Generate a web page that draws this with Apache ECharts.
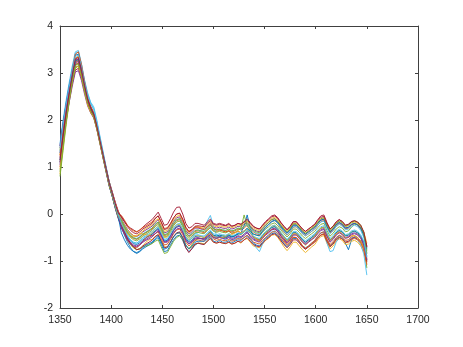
<!DOCTYPE html>
<html>
<head>
<meta charset="utf-8">
<script src="https://cdn.jsdelivr.net/npm/echarts@6/dist/echarts.min.js"></script>
<style>html,body{margin:0;padding:0;background:#fff;}#c{width:463px;height:347px;}</style>
</head>
<body>
<div id="c"></div>
<script>
var wavelengths = [1350,1353,1356,1359,1362,1365,1368,1371,1374,1377,1380,1383,1386,1389,1392,1395,1398,1401,1404,1407,1410,1413,1416,1419,1422,1425,1428,1431,1434,1437,1440,1443,1446,1449,1452,1455,1458,1461,1464,1467,1470,1473,1476,1479,1482,1485,1488,1491,1494,1497,1500,1503,1506,1509,1512,1515,1518,1521,1524,1527,1530,1533,1536,1539,1542,1545,1548,1551,1554,1557,1560,1563,1566,1569,1572,1575,1578,1581,1584,1587,1590,1593,1596,1599,1602,1605,1608,1611,1614,1617,1620,1623,1626,1629,1632,1635,1638,1641,1644,1647,1650];

var s1 = [1.1,1.6,2.05,2.45,2.8,3.12,3.15,2.92,2.6,2.35,2.2,2.08,1.82,1.52,1.2,0.9,0.6,0.38,0.12,-0.1,-0.28,-0.45,-0.6,-0.72,-0.8,-0.84,-0.8,-0.74,-0.7,-0.66,-0.62,-0.55,-0.5,-0.65,-0.8,-0.78,-0.66,-0.55,-0.47,-0.45,-0.56,-0.72,-0.8,-0.74,-0.66,-0.62,-0.63,-0.64,-0.56,-0.48,-0.58,-0.6,-0.56,-0.6,-0.6,-0.57,-0.62,-0.58,-0.55,-0.56,-0.5,-0.46,-0.54,-0.62,-0.66,-0.68,-0.6,-0.52,-0.48,-0.42,-0.4,-0.46,-0.55,-0.64,-0.7,-0.62,-0.52,-0.52,-0.6,-0.68,-0.72,-0.68,-0.62,-0.57,-0.48,-0.4,-0.38,-0.55,-0.68,-0.62,-0.52,-0.46,-0.5,-0.62,-0.76,-0.55,-0.48,-0.5,-0.58,-0.7,-0.98];
var s2 = [1.4,1.88,2.3,2.68,3.0,3.32,3.35,3.08,2.75,2.46,2.28,2.14,1.88,1.58,1.27,0.97,0.68,0.45,0.22,0.0,-0.15,-0.28,-0.4,-0.48,-0.52,-0.54,-0.5,-0.44,-0.4,-0.36,-0.32,-0.24,-0.18,-0.32,-0.46,-0.44,-0.34,-0.22,-0.14,-0.12,-0.24,-0.4,-0.48,-0.44,-0.37,-0.36,-0.38,-0.4,-0.34,-0.28,-0.35,-0.37,-0.35,-0.36,-0.38,-0.35,-0.38,-0.36,-0.32,-0.34,-0.3,-0.24,-0.32,-0.38,-0.42,-0.44,-0.36,-0.28,-0.22,-0.16,-0.14,-0.2,-0.3,-0.38,-0.45,-0.38,-0.28,-0.27,-0.34,-0.42,-0.46,-0.42,-0.37,-0.32,-0.24,-0.16,-0.14,-0.28,-0.4,-0.35,-0.26,-0.2,-0.24,-0.32,-0.3,-0.24,-0.2,-0.24,-0.32,-0.45,-0.7];
var s3 = [0.85,1.4,1.95,2.42,2.82,3.16,3.2,2.96,2.64,2.35,2.16,2.05,1.8,1.5,1.2,0.92,0.62,0.4,0.16,-0.06,-0.25,-0.42,-0.56,-0.66,-0.72,-0.76,-0.74,-0.68,-0.6,-0.55,-0.54,-0.48,-0.44,-0.56,-0.7,-0.7,-0.6,-0.48,-0.42,-0.4,-0.5,-0.66,-0.75,-0.7,-0.64,-0.62,-0.62,-0.64,-0.58,-0.52,-0.6,-0.62,-0.6,-0.62,-0.63,-0.6,-0.64,-0.62,-0.58,-0.62,-0.55,-0.52,-0.6,-0.68,-0.7,-0.72,-0.64,-0.56,-0.52,-0.45,-0.44,-0.5,-0.6,-0.7,-0.78,-0.7,-0.6,-0.6,-0.68,-0.76,-0.82,-0.76,-0.7,-0.65,-0.55,-0.48,-0.46,-0.62,-0.74,-0.68,-0.58,-0.53,-0.56,-0.65,-0.64,-0.58,-0.56,-0.6,-0.68,-0.8,-1.05];
var s4 = [1.3,1.8,2.22,2.6,2.92,3.22,3.25,3.02,2.7,2.42,2.24,2.12,1.87,1.57,1.27,0.98,0.7,0.48,0.25,0.04,-0.1,-0.22,-0.33,-0.41,-0.46,-0.48,-0.44,-0.38,-0.34,-0.3,-0.26,-0.18,-0.12,-0.26,-0.4,-0.38,-0.28,-0.16,-0.08,-0.06,-0.18,-0.35,-0.43,-0.38,-0.3,-0.3,-0.32,-0.33,-0.26,-0.2,-0.28,-0.3,-0.28,-0.3,-0.31,-0.28,-0.32,-0.3,-0.26,-0.28,-0.22,-0.18,-0.26,-0.33,-0.36,-0.38,-0.3,-0.23,-0.18,-0.12,-0.1,-0.16,-0.25,-0.33,-0.4,-0.33,-0.23,-0.23,-0.3,-0.38,-0.43,-0.38,-0.33,-0.28,-0.2,-0.13,-0.11,-0.26,-0.38,-0.32,-0.23,-0.18,-0.22,-0.3,-0.28,-0.22,-0.2,-0.23,-0.3,-0.42,-0.72];
var s5 = [0.8,1.35,1.9,2.38,2.78,3.1,3.15,2.93,2.62,2.35,2.18,2.06,1.82,1.52,1.22,0.92,0.62,0.38,0.14,-0.08,-0.26,-0.4,-0.55,-0.65,-0.72,-0.76,-0.74,-0.7,-0.68,-0.66,-0.63,-0.58,-0.55,-0.7,-0.84,-0.82,-0.7,-0.58,-0.5,-0.46,-0.55,-0.68,-0.74,-0.66,-0.56,-0.52,-0.52,-0.52,-0.44,-0.38,-0.46,-0.47,-0.45,-0.46,-0.47,-0.44,-0.48,-0.46,-0.42,-0.44,-0.38,-0.33,-0.41,-0.48,-0.52,-0.54,-0.46,-0.39,-0.34,-0.28,-0.26,-0.32,-0.41,-0.49,-0.56,-0.49,-0.4,-0.4,-0.47,-0.55,-0.6,-0.55,-0.5,-0.45,-0.37,-0.3,-0.28,-0.42,-0.55,-0.5,-0.4,-0.35,-0.38,-0.46,-0.44,-0.38,-0.36,-0.4,-0.5,-0.66,-1.15];
var s6 = [1.5,2.0,2.42,2.8,3.15,3.45,3.48,3.2,2.85,2.58,2.38,2.28,2.0,1.66,1.34,1.02,0.7,0.46,0.2,-0.02,-0.18,-0.32,-0.46,-0.55,-0.6,-0.62,-0.58,-0.52,-0.48,-0.45,-0.42,-0.35,-0.3,-0.42,-0.56,-0.55,-0.46,-0.35,-0.28,-0.26,-0.36,-0.5,-0.56,-0.5,-0.42,-0.4,-0.35,-0.3,-0.15,-0.03,-0.25,-0.45,-0.5,-0.52,-0.55,-0.5,-0.56,-0.54,-0.5,-0.52,-0.42,-0.36,-0.5,-0.62,-0.72,-0.8,-0.64,-0.5,-0.44,-0.38,-0.36,-0.42,-0.52,-0.62,-0.7,-0.62,-0.5,-0.5,-0.58,-0.68,-0.74,-0.7,-0.64,-0.58,-0.48,-0.4,-0.4,-0.62,-0.8,-0.78,-0.6,-0.5,-0.52,-0.6,-0.58,-0.5,-0.5,-0.55,-0.66,-0.85,-1.3];
var s7 = [1.2,1.68,2.1,2.46,2.78,3.06,3.1,2.9,2.62,2.36,2.2,2.1,1.86,1.56,1.27,0.98,0.69,0.47,0.25,0.06,-0.07,-0.16,-0.25,-0.3,-0.34,-0.38,-0.34,-0.28,-0.22,-0.17,-0.12,-0.04,0.04,-0.1,-0.24,-0.22,-0.1,0.04,0.14,0.15,0.0,-0.2,-0.3,-0.27,-0.2,-0.2,-0.22,-0.24,-0.17,-0.11,-0.2,-0.22,-0.2,-0.22,-0.24,-0.2,-0.26,-0.24,-0.2,-0.22,-0.16,-0.1,-0.18,-0.26,-0.3,-0.32,-0.24,-0.16,-0.1,-0.04,-0.02,-0.08,-0.18,-0.26,-0.33,-0.26,-0.16,-0.16,-0.24,-0.32,-0.37,-0.32,-0.27,-0.22,-0.12,-0.04,-0.02,-0.18,-0.32,-0.26,-0.17,-0.12,-0.16,-0.24,-0.22,-0.16,-0.15,-0.18,-0.26,-0.4,-0.68];
var s8 = [1.45,1.93,2.36,2.74,3.07,3.38,3.4,3.12,2.78,2.48,2.28,2.14,1.88,1.57,1.26,0.95,0.64,0.41,0.16,-0.05,-0.22,-0.36,-0.49,-0.58,-0.63,-0.65,-0.61,-0.55,-0.51,-0.47,-0.43,-0.36,-0.31,-0.44,-0.58,-0.56,-0.46,-0.34,-0.26,-0.24,-0.35,-0.52,-0.6,-0.56,-0.48,-0.47,-0.48,-0.5,-0.43,-0.37,-0.45,-0.47,-0.45,-0.47,-0.48,-0.45,-0.49,-0.47,-0.43,-0.4,-0.25,-0.02,-0.3,-0.5,-0.54,-0.56,-0.47,-0.4,-0.35,-0.29,-0.27,-0.33,-0.42,-0.5,-0.57,-0.5,-0.4,-0.4,-0.47,-0.55,-0.6,-0.55,-0.5,-0.45,-0.37,-0.3,-0.28,-0.43,-0.55,-0.5,-0.4,-0.35,-0.39,-0.47,-0.45,-0.39,-0.37,-0.4,-0.47,-0.6,-0.9];
var s9 = [1.0,1.52,2.0,2.44,2.82,3.2,3.3,3.05,2.72,2.43,2.24,2.12,1.87,1.56,1.25,0.94,0.63,0.4,0.15,-0.07,-0.25,-0.4,-0.55,-0.64,-0.7,-0.72,-0.66,-0.58,-0.5,-0.46,-0.46,-0.42,-0.38,-0.52,-0.66,-0.64,-0.54,-0.42,-0.34,-0.32,-0.44,-0.6,-0.68,-0.63,-0.56,-0.55,-0.57,-0.58,-0.52,-0.46,-0.53,-0.56,-0.54,-0.56,-0.57,-0.54,-0.58,-0.56,-0.52,-0.54,-0.5,-0.45,-0.52,-0.6,-0.62,-0.64,-0.56,-0.5,-0.45,-0.39,-0.37,-0.43,-0.52,-0.6,-0.67,-0.6,-0.5,-0.5,-0.58,-0.68,-0.74,-0.68,-0.62,-0.56,-0.47,-0.4,-0.38,-0.53,-0.65,-0.59,-0.5,-0.45,-0.48,-0.56,-0.55,-0.48,-0.46,-0.5,-0.58,-0.72,-1.0];
var s10 = [1.25,1.76,2.22,2.63,2.98,3.3,3.35,3.08,2.75,2.45,2.26,2.14,1.89,1.59,1.29,0.99,0.7,0.47,0.24,0.03,-0.12,-0.23,-0.34,-0.42,-0.46,-0.47,-0.42,-0.36,-0.31,-0.27,-0.23,-0.15,-0.1,-0.24,-0.37,-0.35,-0.25,-0.13,-0.05,-0.03,-0.15,-0.32,-0.4,-0.35,-0.28,-0.27,-0.29,-0.3,-0.23,-0.17,-0.25,-0.27,-0.25,-0.27,-0.28,-0.25,-0.29,-0.27,-0.23,-0.25,-0.2,-0.15,-0.23,-0.3,-0.33,-0.35,-0.27,-0.2,-0.15,-0.09,-0.07,-0.13,-0.22,-0.3,-0.37,-0.3,-0.2,-0.2,-0.27,-0.35,-0.4,-0.35,-0.3,-0.25,-0.17,-0.1,-0.08,-0.23,-0.35,-0.29,-0.2,-0.15,-0.19,-0.27,-0.25,-0.19,-0.17,-0.2,-0.27,-0.38,-0.62];
var s11 = [1.05,1.55,2.0,2.38,2.72,3.02,3.05,2.84,2.55,2.3,2.15,2.04,1.8,1.5,1.2,0.9,0.6,0.38,0.13,-0.09,-0.27,-0.41,-0.53,-0.61,-0.66,-0.68,-0.64,-0.58,-0.54,-0.5,-0.46,-0.38,-0.33,-0.46,-0.6,-0.58,-0.48,-0.36,-0.28,-0.26,-0.38,-0.55,-0.63,-0.58,-0.51,-0.5,-0.52,-0.53,-0.46,-0.4,-0.48,-0.5,-0.48,-0.5,-0.51,-0.48,-0.52,-0.5,-0.46,-0.48,-0.43,-0.38,-0.46,-0.53,-0.56,-0.58,-0.5,-0.43,-0.38,-0.32,-0.3,-0.36,-0.45,-0.53,-0.6,-0.53,-0.43,-0.43,-0.5,-0.58,-0.63,-0.58,-0.53,-0.48,-0.4,-0.33,-0.31,-0.46,-0.58,-0.52,-0.43,-0.38,-0.42,-0.5,-0.48,-0.42,-0.4,-0.43,-0.5,-0.63,-0.95];
var s12 = [1.35,1.84,2.27,2.65,2.98,3.26,3.28,3.02,2.7,2.41,2.23,2.11,1.86,1.56,1.26,0.96,0.66,0.44,0.2,-0.01,-0.17,-0.3,-0.42,-0.5,-0.55,-0.57,-0.53,-0.47,-0.43,-0.39,-0.35,-0.27,-0.22,-0.35,-0.49,-0.47,-0.37,-0.25,-0.17,-0.15,-0.27,-0.44,-0.52,-0.47,-0.4,-0.39,-0.41,-0.42,-0.35,-0.29,-0.37,-0.39,-0.37,-0.39,-0.4,-0.37,-0.41,-0.39,-0.35,-0.3,-0.02,-0.25,-0.35,-0.42,-0.45,-0.47,-0.39,-0.32,-0.27,-0.21,-0.19,-0.25,-0.34,-0.42,-0.49,-0.42,-0.32,-0.32,-0.39,-0.47,-0.52,-0.47,-0.42,-0.37,-0.29,-0.22,-0.2,-0.35,-0.47,-0.41,-0.32,-0.27,-0.3,-0.38,-0.36,-0.28,-0.22,-0.22,-0.3,-0.45,-0.78];
var s13 = [1.3,1.85,2.32,2.72,3.08,3.42,3.45,3.18,2.83,2.55,2.36,2.24,1.96,1.64,1.32,1.0,0.69,0.45,0.21,0.0,-0.14,-0.26,-0.37,-0.45,-0.5,-0.52,-0.48,-0.42,-0.38,-0.34,-0.3,-0.22,-0.17,-0.3,-0.44,-0.42,-0.32,-0.2,-0.12,-0.1,-0.22,-0.39,-0.47,-0.42,-0.35,-0.34,-0.36,-0.37,-0.3,-0.24,-0.32,-0.34,-0.32,-0.34,-0.35,-0.32,-0.36,-0.34,-0.3,-0.32,-0.27,-0.22,-0.3,-0.37,-0.4,-0.42,-0.34,-0.27,-0.22,-0.16,-0.14,-0.2,-0.29,-0.37,-0.44,-0.37,-0.27,-0.27,-0.34,-0.42,-0.47,-0.42,-0.37,-0.32,-0.24,-0.17,-0.15,-0.3,-0.42,-0.36,-0.27,-0.22,-0.26,-0.34,-0.32,-0.26,-0.24,-0.27,-0.35,-0.5,-0.82];
var s14 = [1.1,1.62,2.08,2.5,2.86,3.18,3.22,2.98,2.66,2.38,2.2,2.08,1.84,1.54,1.23,0.93,0.63,0.4,0.16,-0.05,-0.22,-0.37,-0.52,-0.62,-0.7,-0.76,-0.74,-0.68,-0.64,-0.6,-0.56,-0.48,-0.44,-0.58,-0.72,-0.7,-0.6,-0.48,-0.4,-0.38,-0.52,-0.72,-0.82,-0.74,-0.64,-0.62,-0.64,-0.65,-0.58,-0.52,-0.6,-0.62,-0.6,-0.62,-0.63,-0.6,-0.64,-0.62,-0.58,-0.6,-0.55,-0.5,-0.58,-0.65,-0.68,-0.7,-0.62,-0.55,-0.5,-0.44,-0.42,-0.48,-0.57,-0.65,-0.72,-0.65,-0.55,-0.55,-0.62,-0.7,-0.75,-0.7,-0.65,-0.6,-0.52,-0.45,-0.43,-0.58,-0.7,-0.64,-0.55,-0.5,-0.53,-0.6,-0.58,-0.52,-0.5,-0.53,-0.6,-0.74,-1.02];
var s15 = [1.15,1.66,2.12,2.52,2.88,3.24,3.3,3.06,2.73,2.44,2.25,2.12,1.86,1.55,1.24,0.93,0.62,0.39,0.15,-0.06,-0.4,-0.55,-0.67,-0.75,-0.8,-0.82,-0.79,-0.71,-0.66,-0.63,-0.6,-0.52,-0.46,-0.6,-0.75,-0.72,-0.6,-0.49,-0.41,-0.4,-0.5,-0.66,-0.74,-0.69,-0.6,-0.58,-0.58,-0.58,-0.5,-0.44,-0.5,-0.52,-0.48,-0.5,-0.5,-0.46,-0.49,-0.46,-0.41,-0.42,-0.36,-0.3,-0.37,-0.43,-0.45,-0.46,-0.37,-0.29,-0.23,-0.16,-0.13,-0.18,-0.27,-0.35,-0.41,-0.34,-0.24,-0.24,-0.31,-0.39,-0.43,-0.38,-0.33,-0.28,-0.2,-0.13,-0.11,-0.26,-0.38,-0.32,-0.23,-0.18,-0.22,-0.3,-0.28,-0.22,-0.2,-0.23,-0.3,-0.44,-0.75];
var s16 = [1.25,1.78,2.25,2.66,3.04,3.4,3.45,3.18,2.82,2.5,2.3,2.16,1.9,1.6,1.28,0.98,0.67,0.44,0.2,-0.01,-0.03,-0.13,-0.24,-0.32,-0.36,-0.38,-0.34,-0.29,-0.25,-0.21,-0.17,-0.09,-0.04,-0.17,-0.31,-0.29,-0.2,-0.08,0.0,0.01,-0.12,-0.3,-0.38,-0.34,-0.28,-0.28,-0.31,-0.33,-0.27,-0.22,-0.31,-0.34,-0.33,-0.36,-0.38,-0.36,-0.41,-0.4,-0.37,-0.4,-0.36,-0.32,-0.41,-0.49,-0.53,-0.56,-0.49,-0.43,-0.38,-0.33,-0.32,-0.38,-0.48,-0.57,-0.65,-0.58,-0.49,-0.5,-0.58,-0.67,-0.73,-0.69,-0.64,-0.59,-0.51,-0.44,-0.42,-0.57,-0.69,-0.63,-0.54,-0.49,-0.53,-0.61,-0.6,-0.54,-0.52,-0.55,-0.62,-0.76,-1.08];
var s17 = [0.95,1.48,1.98,2.42,2.8,3.12,3.15,2.92,2.6,2.32,2.16,2.06,1.82,1.52,1.22,0.92,0.62,0.4,0.16,-0.05,-0.2,-0.32,-0.42,-0.47,-0.48,-0.46,-0.42,-0.42,-0.44,-0.45,-0.4,-0.32,-0.26,-0.38,-0.5,-0.49,-0.4,-0.3,-0.23,-0.22,-0.33,-0.48,-0.56,-0.52,-0.46,-0.46,-0.48,-0.5,-0.45,-0.4,-0.48,-0.52,-0.5,-0.5,-0.48,-0.42,-0.44,-0.4,-0.36,-0.4,-0.36,-0.32,-0.4,-0.48,-0.54,-0.58,-0.5,-0.4,-0.33,-0.26,-0.24,-0.3,-0.4,-0.5,-0.58,-0.52,-0.42,-0.42,-0.5,-0.6,-0.66,-0.6,-0.54,-0.48,-0.38,-0.3,-0.28,-0.43,-0.56,-0.5,-0.42,-0.38,-0.42,-0.5,-0.5,-0.46,-0.46,-0.5,-0.58,-0.72,-0.96];
var s18 = [1.45,1.92,2.32,2.68,3.0,3.28,3.3,3.05,2.72,2.43,2.25,2.12,1.87,1.57,1.27,0.97,0.67,0.44,0.2,-0.01,-0.3,-0.43,-0.56,-0.64,-0.68,-0.7,-0.66,-0.6,-0.56,-0.53,-0.49,-0.42,-0.36,-0.47,-0.6,-0.6,-0.51,-0.4,-0.32,-0.3,-0.4,-0.56,-0.64,-0.6,-0.53,-0.52,-0.53,-0.55,-0.48,-0.43,-0.5,-0.52,-0.5,-0.52,-0.53,-0.5,-0.55,-0.52,-0.48,-0.5,-0.46,-0.4,-0.48,-0.55,-0.58,-0.6,-0.52,-0.45,-0.4,-0.34,-0.32,-0.38,-0.47,-0.55,-0.62,-0.55,-0.45,-0.45,-0.52,-0.6,-0.65,-0.6,-0.55,-0.5,-0.42,-0.35,-0.33,-0.48,-0.6,-0.54,-0.45,-0.4,-0.44,-0.52,-0.5,-0.44,-0.42,-0.45,-0.52,-0.66,-0.98];
var s19 = [0.9,1.44,1.96,2.42,2.82,3.16,3.2,2.95,2.63,2.37,2.2,2.08,1.83,1.53,1.23,0.93,0.63,0.41,0.17,-0.04,-0.13,-0.26,-0.38,-0.46,-0.51,-0.53,-0.49,-0.43,-0.39,-0.35,-0.3,-0.22,-0.17,-0.3,-0.44,-0.42,-0.32,-0.2,-0.12,-0.1,-0.22,-0.39,-0.47,-0.42,-0.35,-0.34,-0.36,-0.37,-0.3,-0.24,-0.32,-0.34,-0.32,-0.34,-0.35,-0.32,-0.36,-0.34,-0.3,-0.32,-0.26,-0.2,-0.28,-0.35,-0.38,-0.4,-0.32,-0.24,-0.18,-0.12,-0.1,-0.16,-0.24,-0.32,-0.38,-0.31,-0.21,-0.21,-0.28,-0.36,-0.41,-0.36,-0.31,-0.26,-0.18,-0.1,-0.08,-0.23,-0.35,-0.29,-0.2,-0.15,-0.18,-0.26,-0.24,-0.18,-0.15,-0.17,-0.24,-0.4,-0.85];
var s20 = [1.4,1.9,2.32,2.7,3.04,3.35,3.38,3.12,2.79,2.52,2.34,2.22,1.95,1.62,1.3,0.98,0.67,0.44,0.19,-0.02,-0.2,-0.34,-0.47,-0.56,-0.61,-0.62,-0.57,-0.5,-0.46,-0.42,-0.38,-0.31,-0.27,-0.4,-0.54,-0.52,-0.42,-0.3,-0.22,-0.2,-0.32,-0.49,-0.57,-0.52,-0.45,-0.44,-0.46,-0.47,-0.4,-0.34,-0.42,-0.44,-0.42,-0.44,-0.45,-0.42,-0.46,-0.44,-0.4,-0.42,-0.37,-0.32,-0.4,-0.47,-0.5,-0.52,-0.44,-0.37,-0.32,-0.26,-0.24,-0.3,-0.39,-0.47,-0.54,-0.47,-0.37,-0.37,-0.44,-0.52,-0.57,-0.52,-0.47,-0.42,-0.34,-0.27,-0.25,-0.4,-0.52,-0.46,-0.37,-0.32,-0.36,-0.44,-0.42,-0.36,-0.34,-0.37,-0.44,-0.58,-0.92];
var s21 = [1.15,1.68,2.16,2.58,2.96,3.3,3.33,3.07,2.74,2.45,2.26,2.13,1.87,1.57,1.27,0.97,0.67,0.45,0.22,0.02,-0.05,-0.16,-0.27,-0.35,-0.4,-0.42,-0.38,-0.32,-0.28,-0.24,-0.2,-0.1,-0.04,-0.18,-0.33,-0.31,-0.21,-0.09,0.0,0.02,-0.11,-0.28,-0.37,-0.33,-0.26,-0.25,-0.26,-0.27,-0.2,-0.14,-0.22,-0.24,-0.22,-0.24,-0.25,-0.22,-0.26,-0.24,-0.2,-0.22,-0.17,-0.12,-0.2,-0.27,-0.3,-0.32,-0.24,-0.17,-0.12,-0.06,-0.04,-0.1,-0.19,-0.27,-0.34,-0.27,-0.17,-0.17,-0.24,-0.32,-0.37,-0.32,-0.27,-0.22,-0.14,-0.07,-0.05,-0.2,-0.32,-0.26,-0.17,-0.12,-0.16,-0.24,-0.22,-0.16,-0.14,-0.17,-0.24,-0.38,-0.7];

var spectra = [s1,s2,s3,s4,s5,s6,s7,s8,s9,s10,s11,s12,s13,s14,s15,s16,s17,s18,s19,s20,s21];
var lineColors = ['#0072BD','#D95319','#EDB120','#7E2F8E','#77AC30','#4DBEEE','#A2142F'];
var xTicks = [1350,1400,1450,1500,1550,1600,1650,1700];
var yTicks = [-2,-1,0,1,2,3,4];

var chart = echarts.init(document.getElementById('c'), null, {renderer:'canvas'});
var axisCol = '#404040';
var labelStyle = {color:'#262626', fontSize:10.5, fontFamily:'Liberation Sans, Arial, sans-serif',
  formatter:function(v){ return String(v); }};
var series = spectra.map(function(s, k){
  return {
    type:'line', xAxisIndex:0, yAxisIndex:0, showSymbol:false, symbol:'none',
    smooth:false, animation:false,
    lineStyle:{width:0.9, color: lineColors[k % lineColors.length]},
    data: s.map(function(v,i){ return [wavelengths[i], v]; })
  };
});
chart.setOption({
  animation:false,
  backgroundColor:'#fff',
  grid:{left:60, right:45, top:26, bottom:39, containLabel:false},
  xAxis:[
    {type:'value', position:'bottom', min:xTicks[0], max:xTicks[xTicks.length-1], interval:50,
     axisLine:{show:true, onZero:false, lineStyle:{color:axisCol, width:1}},
     axisTick:{show:true, inside:true, length:3, lineStyle:{color:axisCol}},
     axisLabel:Object.assign({margin:7}, labelStyle), splitLine:{show:false}},
    {type:'value', position:'top', min:xTicks[0], max:xTicks[xTicks.length-1], interval:50,
     axisLine:{show:true, onZero:false, lineStyle:{color:axisCol, width:1}},
     axisTick:{show:true, inside:true, length:3, lineStyle:{color:axisCol}},
     axisLabel:{show:false}, splitLine:{show:false}}
  ],
  yAxis:[
    {type:'value', position:'left', min:yTicks[0], max:yTicks[yTicks.length-1], interval:1,
     axisLine:{show:true, onZero:false, lineStyle:{color:axisCol, width:1}},
     axisTick:{show:true, inside:true, length:3, lineStyle:{color:axisCol}},
     axisLabel:Object.assign({margin:7}, labelStyle), splitLine:{show:false}},
    {type:'value', position:'right', min:yTicks[0], max:yTicks[yTicks.length-1], interval:1,
     axisLine:{show:true, onZero:false, lineStyle:{color:axisCol, width:1}},
     axisTick:{show:true, inside:true, length:3, lineStyle:{color:axisCol}},
     axisLabel:{show:false}, splitLine:{show:false}}
  ],
  series: series
});
</script>
</body>
</html>
